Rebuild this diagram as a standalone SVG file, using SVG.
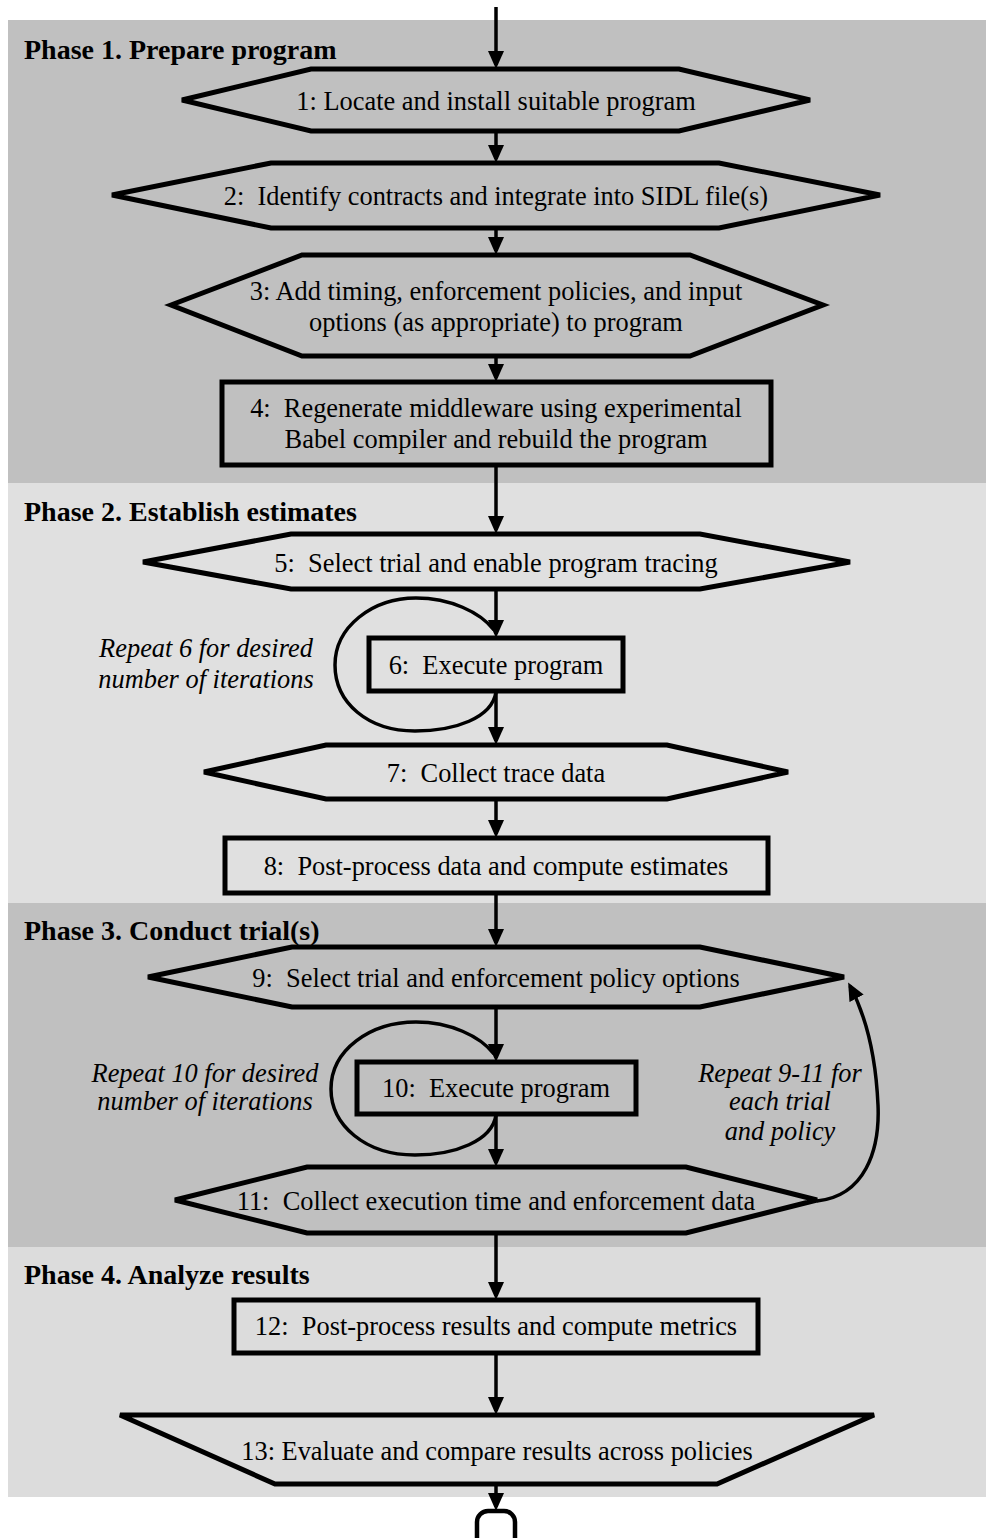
<svg xmlns="http://www.w3.org/2000/svg" width="986" height="1538" viewBox="0 0 986 1538">
  <defs>
    <marker id="arrow" viewBox="0 0 18 16" refX="14" refY="8" markerWidth="18" markerHeight="16" markerUnits="userSpaceOnUse" orient="auto">
      <path d="M0,0 L18,8 L0,16 Z" fill="#000"/>
    </marker>
    <style>
      .panel-dark { fill: #c0c0c0; }
      .panel-light { fill: #e0e0e0; }
      .panel-light2 { fill: #dcdcdc; }
      .shape { fill: none; stroke: #000; stroke-width: 5; stroke-linejoin: miter; }
      .flow { fill: none; stroke: #000; stroke-width: 3.5; }
      .phase { font-family: "Liberation Serif", "Times New Roman", serif; font-weight: bold; font-size: 28px; fill: #000; }
      .label { font-family: "Liberation Serif", "Times New Roman", serif; font-size: 26.4px; fill: #000; text-anchor: middle; white-space: pre; }
      .note { font-family: "Liberation Serif", "Times New Roman", serif; font-style: italic; font-size: 26.4px; fill: #000; text-anchor: middle; }
    </style>
  </defs>

  <!-- Phase bands -->
  <g id="phases">
    <rect class="panel-dark" x="8" y="20" width="978" height="463"/>
    <rect class="panel-light" x="8" y="483" width="978" height="420"/>
    <rect class="panel-dark" x="8" y="903" width="978" height="344"/>
    <rect class="panel-light2" x="8" y="1247" width="978" height="250"/>
    <text class="phase" x="24" y="59">Phase 1. Prepare program</text>
    <text class="phase" x="24" y="521">Phase 2. Establish estimates</text>
    <text class="phase" x="24" y="940">Phase 3. Conduct trial(s)</text>
    <text class="phase" x="24" y="1284">Phase 4. Analyze results</text>
  </g>

  <!-- Connectors -->
  <g id="connectors">
    <path class="flow" d="M496,7 V65" marker-end="url(#arrow)"/>
    <path class="flow" d="M496,131 V159" marker-end="url(#arrow)"/>
    <path class="flow" d="M496,228 V251" marker-end="url(#arrow)"/>
    <path class="flow" d="M496,356 V378" marker-end="url(#arrow)"/>
    <path class="flow" d="M496,465 V530" marker-end="url(#arrow)"/>
    <path class="flow" d="M496,589 V634" marker-end="url(#arrow)"/>
    <path class="flow" d="M496,691 V741" marker-end="url(#arrow)"/>
    <path class="flow" d="M496,799 V834" marker-end="url(#arrow)"/>
    <path class="flow" d="M496,893 V943" marker-end="url(#arrow)"/>
    <path class="flow" d="M496,1007 V1058" marker-end="url(#arrow)"/>
    <path class="flow" d="M496,1114 V1163" marker-end="url(#arrow)"/>
    <path class="flow" d="M496,1233 V1296" marker-end="url(#arrow)"/>
    <path class="flow" d="M496,1353 V1411" marker-end="url(#arrow)"/>
    <path class="flow" d="M496,1484 V1507" marker-end="url(#arrow)"/>
    <!-- repeat loop around step 6 -->
    <path class="flow" d="M496,692 C492,718 455,731 415,731 C368,731 335,703 335,665 C335,627 372,598 416,598 C450,598 480,612 494,630"/>
    <!-- repeat loop around step 10 -->
    <path class="flow" d="M496,1115 C492,1141 455,1155 415,1155 C365,1155 331,1125 331,1089 C331,1050 370,1022 416,1022 C450,1022 480,1036 494,1054"/>
    <!-- repeat 9-11 feedback -->
    <path class="flow" d="M817,1201 C865,1196 880,1150 878,1105 C876,1060 867,1018 850,986" marker-end="url(#arrow)"/>
  </g>

  <g id="step1">
    <polygon class="shape" points="182,100 311,69 679,69 810,100 679,131 311,131"/>
    <text class="label" x="496" y="110">1: Locate and install suitable program</text>
  </g>
  <g id="step2">
    <polygon class="shape" points="112,195 271,163 719,163 880,195 719,228 271,228"/>
    <text class="label" x="496" y="205">2:  Identify contracts and integrate into SIDL file(s)</text>
  </g>
  <g id="step3">
    <polygon class="shape" points="171,305 302,255 690,255 823,305 690,356 302,356"/>
    <text class="label" x="496" y="300">3: Add timing, enforcement policies, and input</text>
    <text class="label" x="496" y="331">options (as appropriate) to program</text>
  </g>
  <g id="step4">
    <rect class="shape" x="222" y="382" width="549" height="83"/>
    <text class="label" x="496" y="417">4:  Regenerate middleware using experimental</text>
    <text class="label" x="496" y="448">Babel compiler and rebuild the program</text>
  </g>
  <g id="step5">
    <polygon class="shape" points="143,562 291,534 700,534 850,562 700,589 291,589"/>
    <text class="label" x="496" y="572">5:  Select trial and enable program tracing</text>
  </g>
  <g id="step6">
    <rect class="shape" x="369" y="638" width="254" height="53"/>
    <text class="label" x="496" y="674">6:  Execute program</text>
    <text class="note" x="206" y="657">Repeat 6 for desired</text>
    <text class="note" x="206" y="688">number of iterations</text>
  </g>
  <g id="step7">
    <polygon class="shape" points="204,772 326,745 667,745 788,772 667,799 326,799"/>
    <text class="label" x="496" y="782">7:  Collect trace data</text>
  </g>
  <g id="step8">
    <rect class="shape" x="225" y="838" width="543" height="55"/>
    <text class="label" x="496" y="875">8:  Post-process data and compute estimates</text>
  </g>
  <g id="step9">
    <polygon class="shape" points="148,977 292,947 700,947 844,977 700,1007 292,1007"/>
    <text class="label" x="496" y="987">9:  Select trial and enforcement policy options</text>
  </g>
  <g id="step10">
    <rect class="shape" x="357" y="1062" width="279" height="52"/>
    <text class="label" x="496" y="1097">10:  Execute program</text>
    <text class="note" x="205" y="1082">Repeat 10 for desired</text>
    <text class="note" x="205" y="1110">number of iterations</text>
  </g>
  <g id="step11">
    <polygon class="shape" points="175,1200 307,1167 686,1167 817,1200 686,1233 307,1233"/>
    <text class="label" x="496" y="1210">11:  Collect execution time and enforcement data</text>
    <text class="note" x="780" y="1082">Repeat 9-11 for</text>
    <text class="note" x="780" y="1110">each trial</text>
    <text class="note" x="780" y="1140">and policy</text>
  </g>
  <g id="step12">
    <rect class="shape" x="234" y="1300" width="524" height="53"/>
    <text class="label" x="496" y="1335">12:  Post-process results and compute metrics</text>
  </g>
  <g id="step13">
    <polygon class="shape" points="120,1415 874,1415 717,1484 275,1484"/>
    <text class="label" x="497" y="1460">13: Evaluate and compare results across policies</text>
  </g>
  <g id="end">
    <rect x="477" y="1511" width="38" height="42" rx="11" ry="11" fill="#fff" stroke="#000" stroke-width="4.5"/>
  </g>
</svg>
